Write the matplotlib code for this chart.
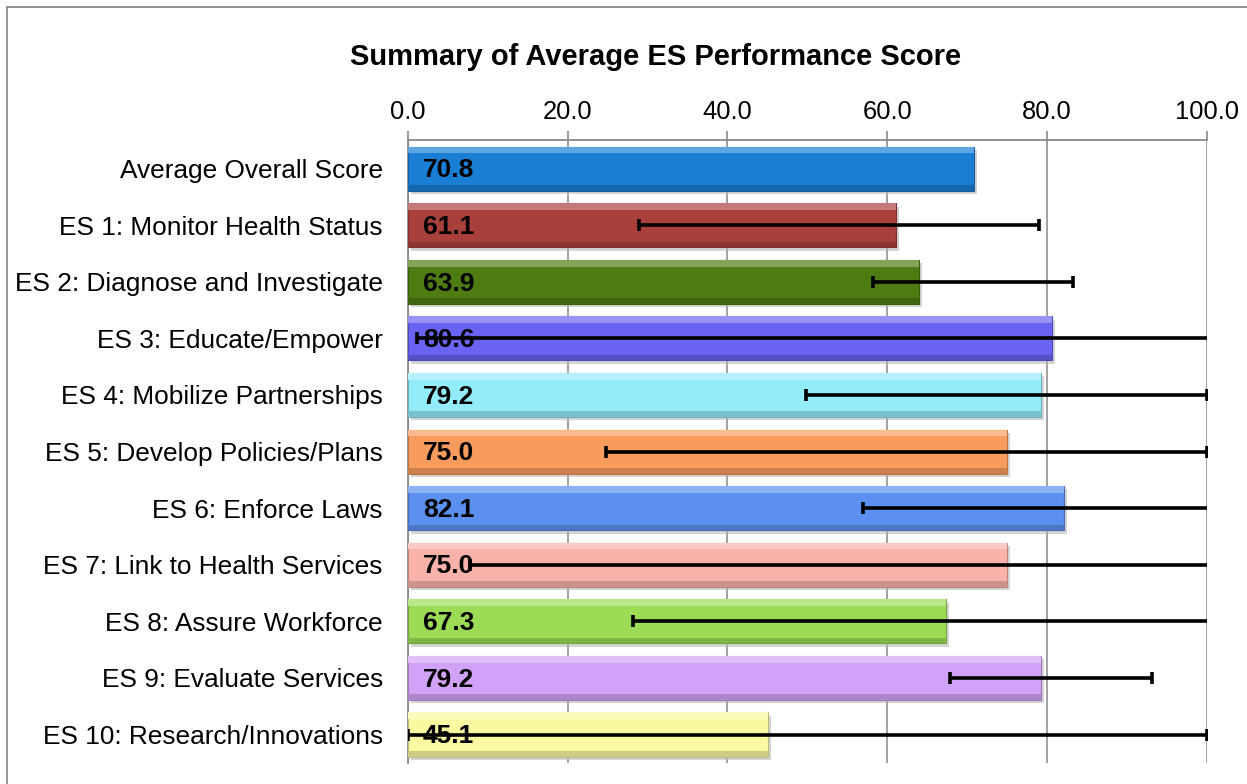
import numpy as np
import matplotlib
matplotlib.use('Agg')
import matplotlib.pyplot as plt
import matplotlib.colors as mcolors
from matplotlib.patches import Rectangle

plt.rcParams['font.family'] = ['Liberation Sans', 'DejaVu Sans']

categories = ['Average Overall Score', 'ES 1: Monitor Health Status', 'ES 2: Diagnose and Investigate',
              'ES 3: Educate/Empower', 'ES 4: Mobilize Partnerships', 'ES 5: Develop Policies/Plans',
              'ES 6: Enforce Laws', 'ES 7: Link to Health Services', 'ES 8: Assure Workforce',
              'ES 9: Evaluate Services', 'ES 10: Research/Innovations']
scores = [70.8, 61.1, 63.9, 80.6, 79.2, 75.0, 82.1, 75.0, 67.3, 79.2, 45.1]
# range of the ES scores (no range for the overall average)
low = [np.nan, 28.9, 58.2, 1.1, 49.8, 24.8, 56.9, 7.8, 28.2, 67.8, 0.0]
high = [np.nan, 79.0, 83.2, 105.0, 100.0, 100.0, 105.0, 105.0, 105.0, 93.1, 100.0]
colors = ['#1a7fd4', '#a9403c', '#4f7c12', '#6a63f2', '#93ecfa', '#f89c5e',
          '#5b8ff0', '#f9b2aa', '#9bdb55', '#d2a2f8', '#f9f9a2']
xticks = [0, 20, 40, 60, 80, 100]

fig = plt.figure(figsize=(12.47, 7.84), dpi=100)
ax = fig.add_axes([0.327, 0.027, 0.641, 0.794])

y = np.arange(len(categories))
h = 0.78

def mix(c, other, t):
    a = np.array(mcolors.to_rgb(c))
    b = np.array(mcolors.to_rgb(other))
    return tuple(a * (1 - t) + b * t)

# drop shadow
ax.barh(y + 0.06, scores, height=h, left=0.4, color='#b8b8b8', alpha=0.6, zorder=2, linewidth=0)
# main bars
ax.barh(y, scores, height=h, color=colors, edgecolor=[mix(c, 'black', 0.25) for c in colors],
        linewidth=0.8, zorder=3)
# light top bevel and dark bottom edge
ax.barh(y - h / 2 + 0.06, scores, height=0.12, color=[mix(c, 'white', 0.3) for c in colors],
        linewidth=0, zorder=4)
ax.barh(y + h / 2 - 0.05, scores, height=0.1, color=[mix(c, 'black', 0.18) for c in colors],
        linewidth=0, zorder=4)

for yi, s in zip(y, scores):
    ax.text(1.9, yi + 0.03, f'{s:.1f}', ha='left', va='center', fontsize=19, fontweight='bold',
            color='black', zorder=5)

lo = np.array(low)
hi = np.array(high)
sc = np.array(scores)
ax.errorbar(sc, y, xerr=[sc - lo, hi - sc], fmt='none', ecolor='black', elinewidth=2.6,
            capsize=4, capthick=2.6, zorder=6)

ax.set_xlim(0, 100)
ax.set_ylim(len(categories) - 0.5, -0.5)
ax.set_xticks(xticks)
ax.set_xticklabels([f'{t:.1f}' for t in xticks])
ax.xaxis.tick_top()
ax.tick_params(axis='x', colors='#888888', length=6.5, width=1.2, pad=5, labelsize=18.4,
               labelcolor='black')
ax.set_yticks(y)
ax.set_yticklabels(categories, fontsize=18.9)
ax.tick_params(axis='y', length=0, pad=18)

ax.grid(axis='x', color='#9a9a9a', linewidth=1.3, zorder=0)
ax.set_axisbelow(True)
for side in ['right', 'bottom']:
    ax.spines[side].set_visible(False)
ax.spines['top'].set_color('#888888')
ax.spines['top'].set_linewidth(1.3)
ax.spines['left'].set_color('#888888')
ax.spines['left'].set_linewidth(1.3)

fig.text(0.526, 0.927, 'Summary of Average ES Performance Score', ha='center', va='center',
         fontsize=21, fontweight='bold')

fig.patches.append(Rectangle((7 / 1247, -0.1), 1.2, 1.1 - 7 / 784, transform=fig.transFigure,
                             fill=False, edgecolor='#8a8a8a', linewidth=1.3))

plt.savefig('out.png', dpi=100)
